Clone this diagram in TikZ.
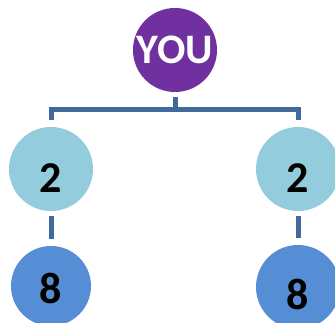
\documentclass[tikz,border=0pt]{standalone}
\usepackage{fontspec}
\setmainfont{Carlito}
\newlength{\du}
\setlength{\du}{1pt}
\definecolor{youcolor}{HTML}{7030A0}
\definecolor{twocolor}{HTML}{93CDDD}
\definecolor{eightcolor}{HTML}{558ED5}
\definecolor{linkcolor}{HTML}{41699A}
\tikzset{
  person/.style={circle, inner sep=0pt, minimum size=84\du, text depth=0pt,
    font=\fontsize{44}{44}\selectfont\bfseries},
  link/.style={draw=linkcolor, line width=5\du}
}
\begin{document}
\begin{tikzpicture}[yscale=-1]
\useasboundingbox (0\du,0\du) rectangle (335\du,323\du);
% circles
\node[person, fill=youcolor, text=white, font=\fontsize{42}{42}\selectfont\bfseries] (you) at (175\du,50\du){YOU};
\node[person, fill=twocolor, text height=48\du] (twoL) at (51\du,169\du){2};
\node[person, fill=twocolor, text height=48\du] (twoR) at (298\du,169\du){2};
\node[person, fill=eightcolor, minimum size=80\du, text height=36\du] (eightL) at (51\du,286\du){8};
\node[person, fill=eightcolor, text height=46\du] (eightR) at (298\du,287\du){8};
% connectors
\coordinate (bar) at (175\du,110\du);
\draw[link, shorten <=5\du, shorten >=7\du] (you.south) -- (you.south |- bar) -| (twoL.north);
\draw[link, shorten <=5\du, shorten >=7\du] (you.south) -- (you.south |- bar) -| (twoR.north);
\draw[link, shorten <=5\du, shorten >=7\du] (twoL.south) -- (eightL.north);
\draw[link, shorten <=5\du, shorten >=7\du] (twoR.south) -- (eightR.north);
\end{tikzpicture}
\end{document}
